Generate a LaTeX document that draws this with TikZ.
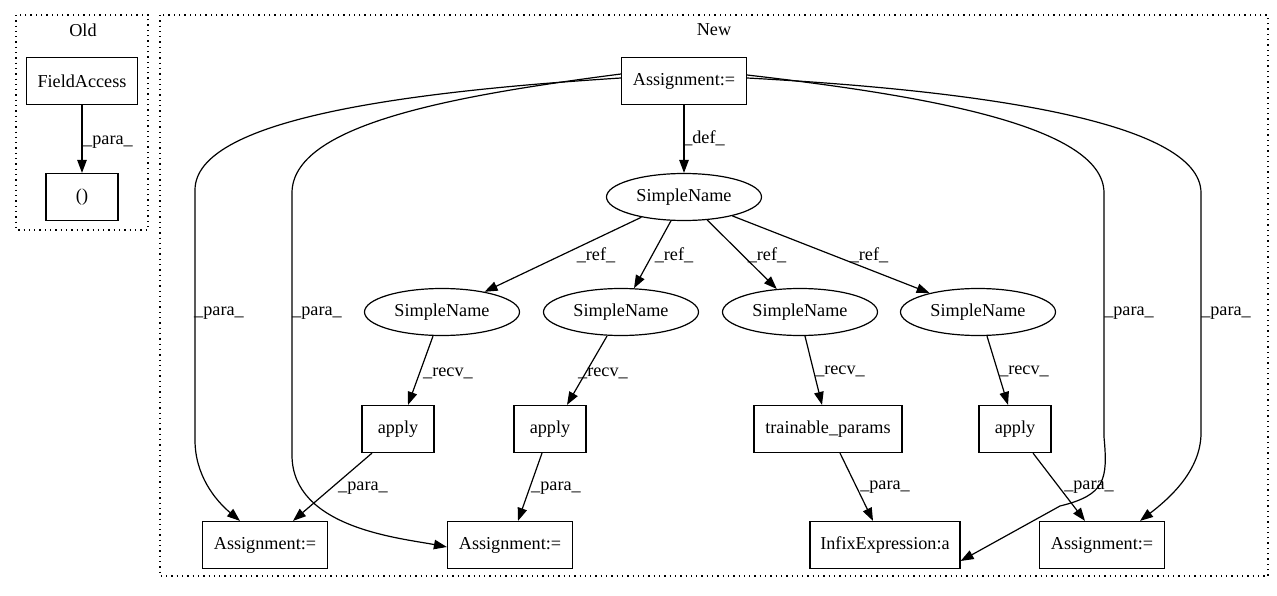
\documentclass[tikz,border=0pt]{standalone}
\usepackage{fontspec}
\setmainfont{Liberation Serif}
\usetikzlibrary{arrows.meta,shapes.geometric}
\begin{document}
\begin{tikzpicture}[x=1pt,y=-1pt,
  every node/.style={font=\fontsize{18.2}{20}\selectfont, inner sep=0pt},
  box/.style={draw, line width=1.2pt, minimum height=47pt},
  ell/.style={draw, ellipse, line width=1.2pt, minimum width=155pt, minimum height=47pt},
  arr/.style={line width=1.2pt, -{Triangle[length=13pt,width=9.5pt]}},
  clus/.style={line width=1.3pt, dash pattern=on 1.3pt off 4pt},
  lbl/.style={}]
\useasboundingbox (0,0) rectangle (1277,596);
% clusters
\draw[clus] (16,15) rectangle (148,230);
\draw[clus] (160,15) rectangle (1268,576);
\node (oldlbl) at (83,30) {Old};
\node (newlbl) at (714,30) {New};
% Old
\node[box, minimum width=111pt] (fa) at (82,81) {FieldAccess};
\node[box, minimum width=72pt] (par) at (82,197) {()};
\draw[arr] (fa) -- (par);
\node (l0) at (108,142) {\_para\_};
% New
\node[box, minimum width=125pt] (top) at (684,81) {Assignment:=};
\node[ell] (sn) at (684,197) {SimpleName};
\node[ell] (sn1) at (442,312) {SimpleName};
\node[ell] (sn2) at (621,312) {SimpleName};
\node[ell] (sn3) at (800,312) {SimpleName};
\node[ell] (sn4) at (978,312) {SimpleName};
\node[box, minimum width=72pt] (ap1) at (398,429) {apply};
\node[box, minimum width=72pt] (ap2) at (550,429) {apply};
\node[box, minimum width=148pt] (tp) at (828,429) {trainable\_params};
\node[box, minimum width=72pt] (ap3) at (1015,429) {apply};
\node[box, minimum width=125pt] (a1) at (265,545) {Assignment:=};
\node[box, minimum width=125pt] (a2) at (510,545) {Assignment:=};
\node[box, minimum width=150pt] (inf) at (885,545) {InfixExpression:a};
\node[box, minimum width=125pt] (a4) at (1102,545) {Assignment:=};
% def / ref
\draw[arr] (top) -- (sn);
\node (ldef) at (704,138) {\_def\_};
\draw[arr] (sn) -- (sn1);
\draw[arr] (sn) -- (sn2);
\draw[arr] (sn) -- (sn3);
\draw[arr] (sn) -- (sn4);
\node (lr1) at (596,255) {\_ref\_};
\node (lr2) at (674,255) {\_ref\_};
\node (lr3) at (767,255) {\_ref\_};
\node (lr4) at (869,255) {\_ref\_};
% recv
\draw[arr] ([xshift=-9pt]sn1.south) -- ([xshift=10pt]ap1.north);
\draw[arr] ([xshift=-14pt]sn2.south) -- ([xshift=17pt]ap2.north);
\draw[arr] ([xshift=5pt]sn3.south) -- ([xshift=-6pt]tp.north);
\draw[arr] ([xshift=9pt]sn4.south) -- ([xshift=-7pt]ap3.north);
\node (lv1) at (448,373) {\_recv\_};
\node (lv2) at (603,373) {\_recv\_};
\node (lv3) at (840,371) {\_recv\_};
\node (lv4) at (1024,371) {\_recv\_};
% para bottom
\draw[arr] ([xshift=-26pt]ap1.south) -- ([xshift=28pt]a1.north);
\draw[arr] ([xshift=-8pt]ap2.south) -- ([xshift=8pt]a2.north);
\draw[arr] ([xshift=12pt]tp.south) -- ([xshift=-12pt]inf.north);
\draw[arr] ([xshift=18pt]ap3.south) -- ([xshift=-17pt]a4.north);
\node (lp1) at (363,488) {\_para\_};
\node (lp2) at (556,488) {\_para\_};
\node (lp3) at (885,487) {\_para\_};
\node (lp4) at (1089,487) {\_para\_};
% long para edges
\draw[arr] ([yshift=3pt]top.west) .. controls (400,92) and (195,120) .. (195,190)
   -- (195,440) .. controls (195,475) and (215,500) .. ([xshift=-25pt]a1.north);
\draw[arr] ([yshift=7pt]top.west) .. controls (450,96) and (292,125) .. (292,193)
   -- (292,455) .. controls (292,528) and (400,538) .. ([yshift=-2pt]a2.west);
\draw[arr] ([yshift=6pt]top.east) .. controls (920,95) and (1104,125) .. (1104,193)
   -- (1104,437) .. controls (1108,480) and (1105,495) .. (1060,506) -- ([yshift=-16pt]inf.east);
\draw[arr] ([yshift=3pt]top.east) .. controls (970,90) and (1201,120) .. (1201,193)
   -- (1201,433) .. controls (1201,470) and (1170,498) .. ([xshift=38pt]a4.north);
\node (ls1) at (219,313) {\_para\_};
\node (ls2) at (317,313) {\_para\_};
\node (ls3) at (1129,313) {\_para\_};
\node (ls4) at (1226,313) {\_para\_};
\end{tikzpicture}
\end{document}
